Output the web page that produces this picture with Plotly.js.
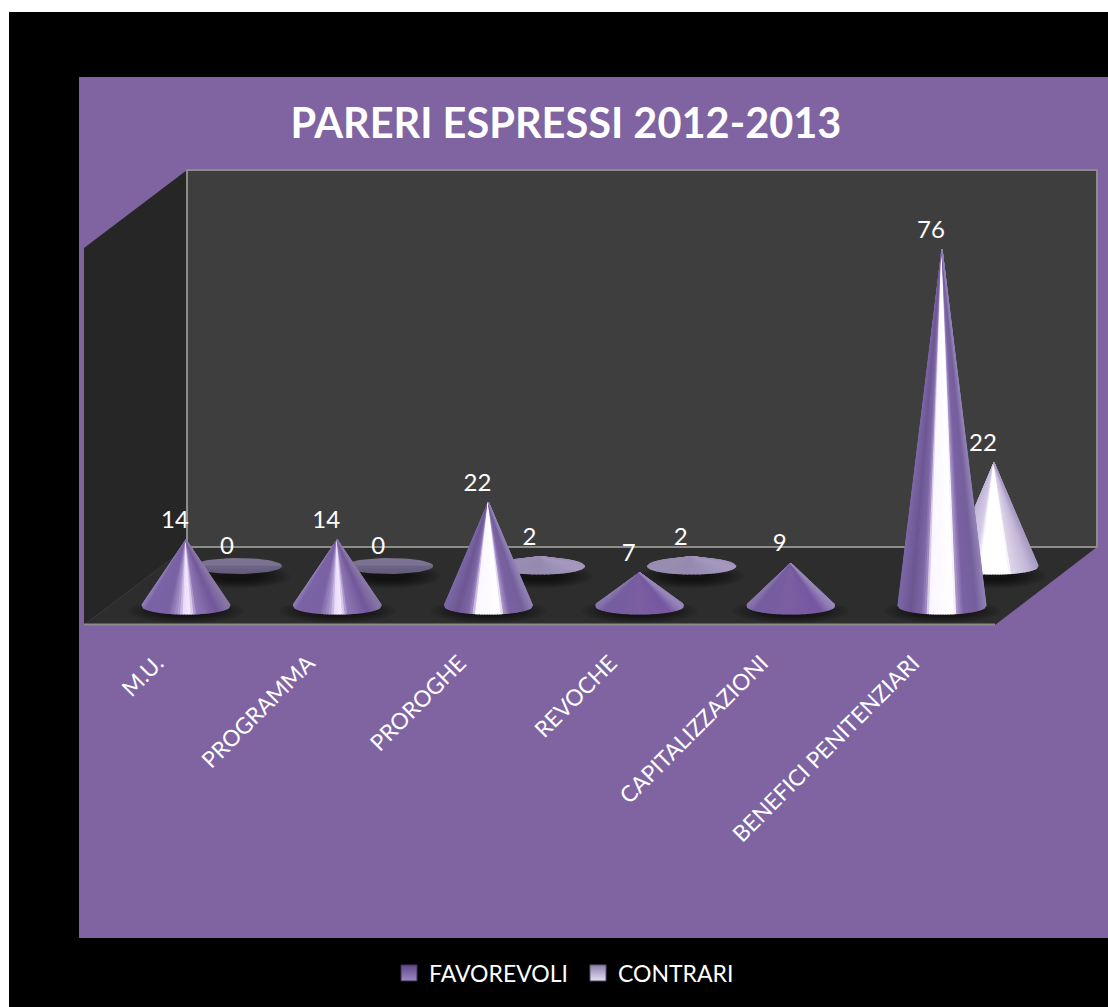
<!DOCTYPE html>
<html><head><meta charset="utf-8">
<script src="https://cdn.plot.ly/plotly-3.0.1.min.js"></script>
<style>html,body{margin:0;padding:0;background:#fff}#c{width:1108px;height:1007px}</style>
</head><body><div id="c"></div>
<script>
var categories = ['M.U.','PROGRAMMA','PROROGHE','REVOCHE','CAPITALIZZAZIONI','BENEFICI PENITENZIARI'];
var favorevoli = [14,14,22,7,9,76];
var contrari = [0,0,2,2,null,22];
var favShade = ['soft','soft','bright','flat','flat','bright'];
var conShade = ['disk','disk','lilac','lilac',null,'white'];
var chartTitle = 'PARERI ESPRESSI 2012-2013';

var profiles = {
  soft:[[-1,'#8f7db5'],[-0.9,'#7b64a6'],[-0.4,'#7a62a3'],[-0.22,'#9b87c0'],[-0.12,'#b8a4d4'],[-0.05,'#e8d8ff'],[0.08,'#f6ecff'],[0.17,'#d0bde6'],[0.25,'#8f78b5'],[0.7,'#72589a'],[1,'#8a78a8']],
  bright:[[-1,'#7d68a8'],[-0.7,'#6d5793'],[-0.45,'#7d67a6'],[-0.35,'#a48fc6'],[-0.28,'#fbf7ff'],[0.3,'#ffffff'],[0.36,'#a995c8'],[0.5,'#7b62a4'],[0.8,'#75609c'],[1,'#9080b4']],
  flat:[[-1,'#8a78ae'],[-0.8,'#755e9f'],[0,'#7c5fa2'],[0.7,'#7558a0'],[1,'#9a88bc']],
  white:[[-1,'#c0b4d8'],[-0.45,'#d4cae6'],[-0.3,'#ffffff'],[0.36,'#ffffff'],[0.42,'#ddd4ea'],[0.8,'#c4b8d8'],[1,'#a99cc4']],
  lilac:[[-1,'#9a8eb2'],[0,'#968ab0'],[1,'#a698be']]
};

// scales of the drawing: category step and value step in pixels
var PXCAT = 151.2, CAT0 = 157, PXVAL = 4.68, VAL0 = 605.5;
function X(px){return (px-CAT0)/PXCAT;}
function Y(py){return (VAL0-py)/PXVAL;}
var L=83,R=1099,T=168,B=628;
function PX(px){return (px-L)/(R-L);}
function PY(py){return (B-py)/(B-T);}

var RX = 44/PXCAT;
var FRONT = {dx:29/PXCAT, dy:0, ry:8.5/PXVAL};
var BACK = {dx:81/PXCAT, dy:39.5/PXVAL, ry:8/PXVAL};
var LABELX = -11/PXCAT, LABELY = 6/PXVAL;

function hex(c){return [parseInt(c.substr(1,2),16),parseInt(c.substr(3,2),16),parseInt(c.substr(5,2),16)];}
function shade(stops,u){
  u=Math.max(-1,Math.min(1,u));
  for(var i=1;i<stops.length;i++){
    if(u<=stops[i][0]){
      var a=stops[i-1],b=stops[i],f=(u-a[0])/(b[0]-a[0]),p=hex(a[1]),q=hex(b[1]);
      return 'rgb('+[0,1,2].map(function(k){return Math.round(p[k]+(q[k]-p[k])*f);}).join(',')+')';
    }
  }
  return stops[stops.length-1][1];
}

var traces=[], shapes=[];
function poly(xs,ys,color){
  traces.push({x:xs,y:ys,type:'scatter',mode:'lines',fill:'toself',fillcolor:color,
    line:{color:color,width:1.2},hoverinfo:'skip',showlegend:false});
}
function cone(cx,by,value,ry,kind){
  var i,n=56;
  if(kind==='disk'){
    var ex=[],ey=[];
    for(i=0;i<=n;i++){var a=2*Math.PI*i/n;ex.push(cx+RX*Math.cos(a));ey.push(by+ry*Math.sin(a));}
    traces.push({x:ex,y:ey,type:'scatter',mode:'lines',fill:'toself',line:{width:0,color:'#6a6180'},
      fillgradient:{type:'vertical',colorscale:[[0,'#625a78'],[0.5,'#6d6585'],[0.55,'#7a7291'],[1,'#7c748f']]},
      hoverinfo:'skip',showlegend:false});
    return;
  }
  var t = value>ry ? Math.asin(ry/value) : -Math.PI/2;
  var start = Math.PI - t, end = 2*Math.PI + t, stops = profiles[kind];
  for(i=0;i<n;i++){
    var a0=start+(end-start)*i/n, a1=start+(end-start)*(i+1)/n;
    var u=(Math.cos(a0)+Math.cos(a1))/2;
    poly([cx,cx+RX*Math.cos(a0),cx+RX*Math.cos(a1),cx],
         [by+value,by+ry*Math.sin(a0),by+ry*Math.sin(a1),by+value],shade(stops,u));
  }
}
function shadow(cx,cy,rx,ry){
  for(var k=0;k<10;k++){
    var f=1-k*0.07;
    shapes.push({type:'circle',xref:'x',yref:'y',layer:'below',x0:cx-rx*f,x1:cx+rx*f,y0:cy-ry*f,y1:cy+ry*f,
      fillcolor:'rgba(0,0,0,0.07)',line:{width:0}});
  }
}

// page background, panel
shapes.push({type:'rect',xref:'paper',yref:'paper',layer:'below',x0:PX(9),x1:PX(1108),y0:PY(1007),y1:PY(12),fillcolor:'#000',line:{width:0}});
shapes.push({type:'rect',xref:'paper',yref:'paper',layer:'below',x0:PX(79),x1:PX(1108),y0:PY(938),y1:PY(77),fillcolor:'#8064a2',line:{width:0}});
// walls
function path(pts){return 'M'+pts.map(function(p){return X(p[0])+','+Y(p[1]);}).join('L')+'Z';}
shapes.push({type:'path',xref:'x',yref:'y',layer:'below',path:path([[84,248],[187,170],[187,547],[84,625]]),fillcolor:'#262626',line:{width:0}});
shapes.push({type:'path',xref:'x',yref:'y',layer:'below',path:path([[84,625],[187,547],[1097,547],[995,625]]),fillcolor:'#2d2d2d',line:{width:0}});
shapes.push({type:'path',xref:'x',yref:'y',layer:'below',path:path([[187,170],[1097,170],[1097,547],[187,547]]),fillcolor:'#3e3e3e',line:{color:'#8c8c88',width:2}});
shapes.push({type:'path',xref:'x',yref:'y',layer:'below',path:'M'+X(84)+','+Y(624.5)+'L'+X(995)+','+Y(624.5),line:{color:'#8c8c88',width:2}});

// shadows, back cones, front cones
categories.forEach(function(c,i){
  if(contrari[i]!==null) shadow(i+BACK.dx,BACK.dy-2.2,52/PXCAT,12/PXVAL);
});
categories.forEach(function(c,i){ shadow(i+FRONT.dx,-1.2,58/PXCAT,12/PXVAL); });
categories.forEach(function(c,i){
  if(contrari[i]!==null) cone(i+BACK.dx,BACK.dy,contrari[i],BACK.ry,conShade[i]);
});
categories.forEach(function(c,i){ cone(i+FRONT.dx,FRONT.dy,favorevoli[i],FRONT.ry,favShade[i]); });

// value labels
function labels(vals,s){
  var xs=[],ys=[],tx=[];
  vals.forEach(function(v,i){ if(v!==null){xs.push(i+s.dx+LABELX);ys.push(s.dy+v+LABELY);tx.push(String(v));} });
  traces.push({x:xs,y:ys,text:tx,type:'scatter',mode:'text',textposition:'top center',
    textfont:{family:'Lato',size:24,color:'#fff'},hoverinfo:'skip',showlegend:false});
}
labels(contrari,BACK); labels(favorevoli,FRONT);

// legend entries
traces.push({x:[null],y:[null],type:'scatter',mode:'markers',name:'FAVOREVOLI',
  marker:{symbol:'square',size:16,color:'#5e4a86',gradient:{type:'vertical',color:'#9d86c4'},line:{color:'#3d3058',width:1}}});
traces.push({x:[null],y:[null],type:'scatter',mode:'markers',name:'CONTRARI',
  marker:{symbol:'square',size:16,color:'#8d80a8',gradient:{type:'vertical',color:'#e6def2'},line:{color:'#5a5070',width:1}}});

var layout={
  width:1108,height:1007,paper_bgcolor:'#fff',plot_bgcolor:'rgba(0,0,0,0)',
  margin:{l:L,r:1108-R,t:T,b:1007-B,pad:0},
  title:{text:'<b>'+chartTitle+'</b>',font:{family:'Lato',size:41.5,color:'#fff'},
    xref:'container',yref:'container',x:566/1108,y:1-123/1007,xanchor:'center',yanchor:'middle'},
  xaxis:{range:[X(L),X(R)],tickmode:'array',tickvals:categories.map(function(c,i){return i;}),ticktext:categories,
    tickangle:-45,showgrid:false,zeroline:false,showline:false,ticks:'outside',ticklen:12,tickcolor:'rgba(0,0,0,0)',
    tickfont:{family:'Lato',size:22.5,color:'#fff'},automargin:false,fixedrange:true},
  yaxis:{range:[Y(B),Y(T)],visible:false,fixedrange:true},
  showlegend:true,
  legend:{orientation:'h',x:PX(389),xanchor:'left',y:PY(973),yanchor:'middle',bgcolor:'rgba(0,0,0,0)',
    entrywidth:144,entrywidthmode:'pixels',
    font:{family:'Lato',size:23,color:'#fff'},itemclick:false,itemdoubleclick:false},
  shapes:shapes
};
Plotly.newPlot('c',traces,layout,{displayModeBar:false,staticPlot:true});
</script></body></html>
